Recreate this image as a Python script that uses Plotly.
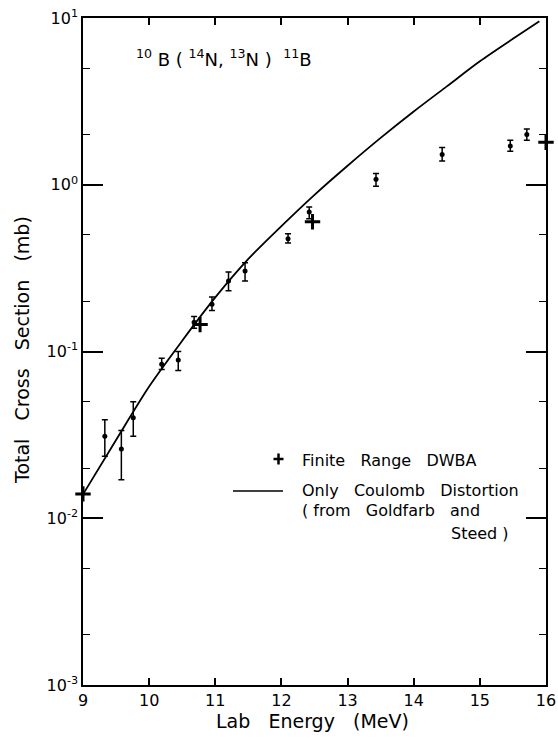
import plotly.graph_objects as go

# Measured total cross sections for 10B(14N,13N)11B
energy = [9.33, 9.58, 9.76, 10.19, 10.44, 10.68, 10.95, 11.20, 11.45,
          12.10, 12.42, 13.43, 14.43, 15.46, 15.71]
sigma = [0.031, 0.026, 0.040, 0.084, 0.089, 0.150, 0.192, 0.265, 0.304,
         0.475, 0.686, 1.08, 1.52, 1.71, 2.00]
sigma_hi = [0.039, 0.0336, 0.050, 0.091, 0.100, 0.162, 0.212, 0.300, 0.341,
            0.509, 0.735, 1.17, 1.67, 1.85, 2.16]
sigma_lo = [0.0235, 0.017, 0.031, 0.078, 0.077, 0.138, 0.176, 0.231, 0.265,
            0.448, 0.626, 0.98, 1.39, 1.59, 1.85]

# Finite range DWBA calculation
dwba_energy = [9.0, 10.77, 12.47, 16.0]
dwba_sigma = [0.014, 0.145, 0.60, 1.80]

# Coulomb-distortion-only curve (Goldfarb and Steed)
coul_energy = [9.0, 9.5, 10.0, 10.5, 11.0, 11.5, 12.0, 12.5, 13.0,
               13.5, 14.0, 14.5, 15.0, 15.5, 15.9]
coul_sigma = [0.0139, 0.0295, 0.0617, 0.116, 0.211, 0.359, 0.565, 0.870,
              1.30, 1.91, 2.75, 3.89, 5.50, 7.50, 9.55]

x_ticks = [9, 10, 11, 12, 13, 14, 15, 16]
y_ticks = [1e-3, 1e-2, 1e-1, 1, 10]
y_ticktext = ["10<sup>-3</sup>", "10<sup>-2</sup>", "10<sup>-1</sup>",
              "10<sup>0</sup>", "10<sup>1</sup>"]
y_minor = [2e-3, 5e-3, 2e-2, 5e-2, 0.2, 0.5, 2, 5]

FONT = "DejaVu Sans"
NB = "\u00a0"
SP2 = NB * 2
SP3 = NB * 3

# plot-area geometry in pixels (used for paper-coordinate placement)
L, T, W, H = 83, 18, 463, 667


def px(x):
    return (x - L) / W


def py(y):
    return 1 - (y - T) / H


fig = go.Figure()

fig.add_trace(go.Scatter(
    x=coul_energy, y=coul_sigma, mode="lines",
    line=dict(color="black", width=1.8, shape="spline", smoothing=0.8),
    showlegend=False, hoverinfo="skip"))

fig.add_trace(go.Scatter(
    x=energy, y=sigma, mode="markers",
    marker=dict(symbol="circle", size=5, color="black"),
    error_y=dict(type="data", symmetric=False,
                 array=[h - s for h, s in zip(sigma_hi, sigma)],
                 arrayminus=[s - l for s, l in zip(sigma, sigma_lo)],
                 color="black", thickness=1.5, width=3),
    showlegend=False))

fig.add_trace(go.Scatter(
    x=dwba_energy, y=dwba_sigma, mode="markers",
    marker=dict(symbol="cross-thin", size=11,
                line=dict(color="black", width=3)),
    showlegend=False, cliponaxis=False))

leg_font = dict(size=16, family=FONT, color="black")
annotations = [
    dict(text=f"<sup>10</sup>{NB}B{NB}({NB}<sup>14</sup>N,{NB}<sup>13</sup>N{NB}){NB}{NB}<sup>11</sup>B",
         xref="paper", yref="paper", x=px(134), y=py(58),
         xanchor="left", yanchor="middle", showarrow=False,
         font=dict(size=18, family=FONT, color="black")),
    dict(text=f"Finite{SP3}Range{SP3}DWBA",
         xref="paper", yref="paper", x=px(300), y=py(460),
         xanchor="left", yanchor="middle", showarrow=False, font=leg_font),
    dict(text=f"Only{SP3}Coulomb{SP3}Distortion",
         xref="paper", yref="paper", x=px(300), y=py(490),
         xanchor="left", yanchor="middle", showarrow=False, font=leg_font),
    dict(text=f"({NB}from{SP3}Goldfarb{SP3}and",
         xref="paper", yref="paper", x=px(300), y=py(511),
         xanchor="left", yanchor="middle", showarrow=False, font=leg_font),
    dict(text=f"Steed{NB})",
         xref="paper", yref="paper", x=px(511), y=py(533),
         xanchor="right", yanchor="middle", showarrow=False, font=leg_font),
    dict(text=f"Lab{SP3}Energy{SP3}(MeV)",
         xref="paper", yref="paper", x=px(312), y=py(721),
         xanchor="center", yanchor="middle", showarrow=False,
         font=dict(size=19, family=FONT, color="black")),
    dict(text=f"Total{SP3}Cross{SP3}Section{SP3}(mb)",
         xref="paper", yref="paper", x=px(22), y=py(350),
         xanchor="center", yanchor="middle", textangle=-90, showarrow=False,
         font=dict(size=19, family=FONT, color="black")),
]

shapes = [
    # legend key: Coulomb curve
    dict(type="line", xref="paper", yref="paper",
         x0=px(233), x1=px(283), y0=py(491), y1=py(491),
         line=dict(color="black", width=1.5)),
    # legend key: DWBA plus sign
    dict(type="line", xref="paper", yref="paper",
         x0=px(273.5), x1=px(283.5), y0=py(459), y1=py(459),
         line=dict(color="black", width=2.5)),
    dict(type="line", xref="paper", yref="paper",
         x0=px(278.5), x1=px(278.5), y0=py(453.5), y1=py(464.5),
         line=dict(color="black", width=2.5)),
]

fig.update_layout(
    width=558, height=740,
    margin=dict(l=L, r=558 - L - W, t=T, b=740 - T - H, autoexpand=False),
    paper_bgcolor="white", plot_bgcolor="white",
    font=dict(family=FONT, color="black"),
    annotations=annotations, shapes=shapes,
    showlegend=False,
)

fig.update_xaxes(
    range=[9, 16], tickvals=x_ticks, ticktext=[str(t) for t in x_ticks],
    ticks="inside", ticklen=7, tickwidth=1.5, tickcolor="black",
    showline=True, linecolor="black", linewidth=1.5, mirror="ticks",
    showgrid=False, zeroline=False,
    tickfont=dict(size=16, family=FONT, color="black"),
)

fig.update_yaxes(
    type="log", range=[-3, 1], tickvals=y_ticks, ticktext=y_ticktext,
    ticks="inside", ticklen=20, tickwidth=1.5, tickcolor="black",
    minor=dict(tickvals=y_minor, ticks="inside", ticklen=7,
               tickwidth=1.2, tickcolor="black", showgrid=False),
    showline=True, linecolor="black", linewidth=1.5, mirror="ticks",
    showgrid=False, zeroline=False,
    tickfont=dict(size=16, family=FONT, color="black"),
)

fig.write_html("out.html")
